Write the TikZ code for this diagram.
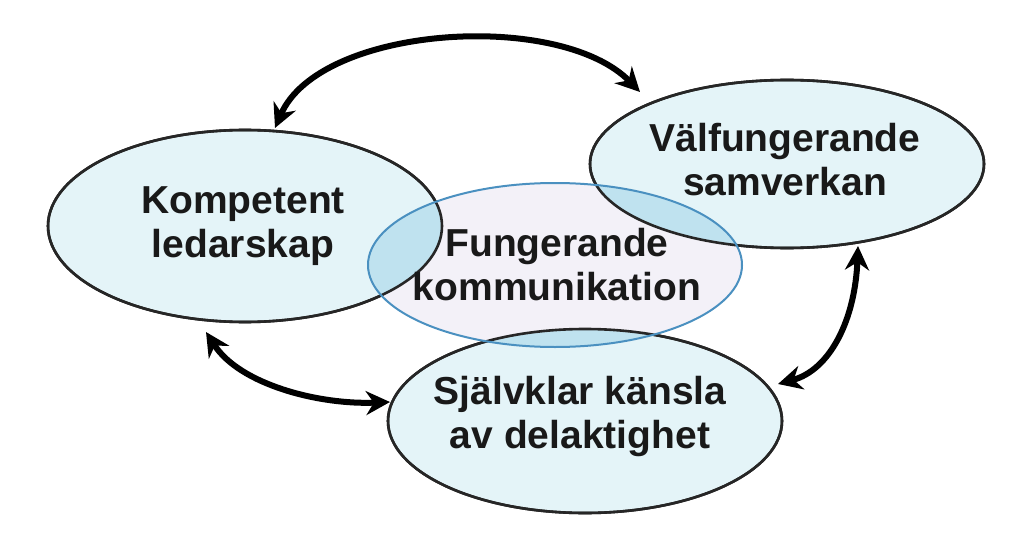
\documentclass[tikz,border=0pt]{standalone}
\usepackage{fontspec}
\setmainfont{Liberation Sans}
\usetikzlibrary{shapes.geometric,arrows.meta}
\definecolor{cfill}{HTML}{E4F4F8}
\definecolor{cover}{HTML}{BFE2EF}
\definecolor{cblue}{HTML}{4A90C0}
\definecolor{clav}{HTML}{F3F1F8}
\tikzset{
  oval/.style={ellipse,draw=black!85,line width=2.6pt,fill=cfill,inner sep=0pt},
  lbl/.style={font=\fontsize{39}{44}\selectfont\bfseries,align=center,text=black!90},
  dbl/.style={line width=6pt,{Stealth[length=24pt,width=24pt]}-{Stealth[length=24pt,width=24pt]}}
}
\begin{document}
\begin{tikzpicture}[x=1pt,y=-1pt]
\useasboundingbox (0,0) rectangle (1024,540);
\node[oval,minimum width=394pt,minimum height=192pt] (L) at (245,226) {};
\node[oval,minimum width=394pt,minimum height=168pt] (R) at (787,164) {};
\node[oval,minimum width=394pt,minimum height=184pt] (B) at (585,421) {};
\node[oval,minimum width=374pt,minimum height=164pt,fill=clav,draw=none] (C) at (555,265) {};
\begin{scope}
\clip (C.center) ellipse [x radius=187, y radius=82];
\fill[cover] (L.center) ellipse [x radius=197, y radius=96];
\fill[cover] (R.center) ellipse [x radius=197, y radius=84];
\fill[cover] (B.center) ellipse [x radius=197, y radius=92];
\end{scope}
\draw[black!85,line width=2.6pt] (L.center) ellipse [x radius=197, y radius=96];
\draw[black!85,line width=2.6pt] (R.center) ellipse [x radius=197, y radius=84];
\draw[black!85,line width=2.6pt] (B.center) ellipse [x radius=197, y radius=92];
\draw[cblue,line width=2pt] (C.center) ellipse [x radius=187, y radius=82];
\node[lbl] at (243,226) {Kompetent\\ledarskap};
\node[lbl] at (785,160) {Välfungerande\\samverkan};
\node[lbl] at (557,265) {Fungerande\\kommunikation};
\node[lbl] at (580,416) {Självklar känsla\\av delaktighet};
\coordinate (a1) at (275,128); \coordinate (a2) at (640,92);
\coordinate (b1) at (858,246); \coordinate (b2) at (778,384);
\coordinate (c1) at (206,332); \coordinate (c2) at (390,402);
\draw[dbl] (a1) .. controls (320,25) and (560,10) .. (a2);
\draw[dbl] (b1) .. controls (855,320) and (830,370) .. (b2);
\draw[dbl] (c1) .. controls (240,385) and (320,405) .. (c2);
\end{tikzpicture}
\end{document}
